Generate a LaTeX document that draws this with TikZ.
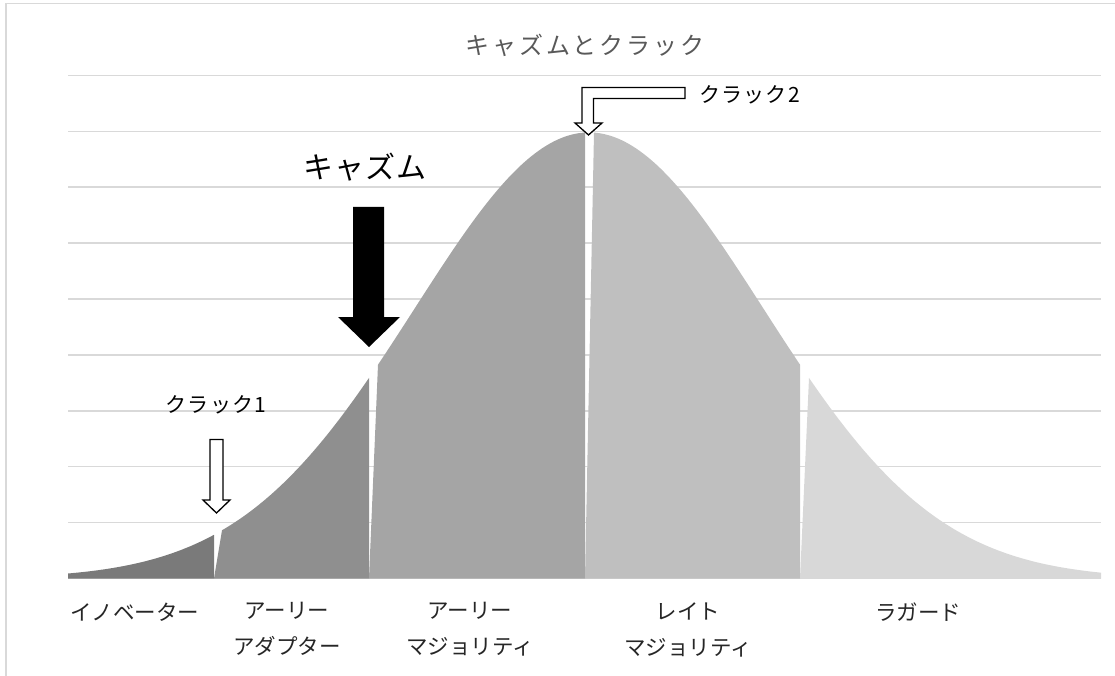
\documentclass[tikz,border=0pt]{standalone}
\usepackage{fontspec}
\newfontfamily\jp{Noto Sans CJK JP}
\newfontfamily\jptitle[LetterSpace=12]{Noto Sans CJK JP}
\newfontfamily\jpchasm[LetterSpace=4]{Noto Sans CJK JP}
\newfontfamily\jpcrack[LetterSpace=6]{Noto Sans CJK JP}
\definecolor{gridc}{HTML}{D9D9D9}
\definecolor{ca}{HTML}{7A7A7A}
\definecolor{cb}{HTML}{8F8F8F}
\definecolor{cc}{HTML}{A5A5A5}
\definecolor{cd}{HTML}{BFBFBF}
\definecolor{ce}{HTML}{D8D8D8}
\definecolor{titlec}{HTML}{595959}
\definecolor{labc}{HTML}{262626}
\begin{document}
\begin{tikzpicture}[x=1pt,y=-1pt,
  declare function={f(\x)=578.5-446*exp(-0.5*((\x-589)/174)^2);},
  gridline/.style={draw=gridc,line width=1.5pt},
  catlabel/.style={font=\jp\fontsize{21.5}{36}\selectfont,text=labc,align=center,inner sep=0pt},
  hollowarrow/.style={draw=black,fill=white,line width=1.3pt,line join=miter}]
\useasboundingbox (0,0) rectangle (1115,676);
% frame
\draw[gridc,line width=1.5pt] (6,676) -- (6,3.5) -- (1115,3.5);
% grid
\foreach \k in {0,...,9}{
  \draw[gridline] (68,{578.5-55.9*\k}) -- (1101,{578.5-55.9*\k});
}
% areas
\fill[ca] (68,578.5) -- plot[domain=68:214,samples=50] (\x,{f(\x)}) -- (214,578.5) -- cycle;
\fill[cb] (214,578.5) -- plot[domain=222:369,samples=50] (\x,{f(\x)}) -- (369,578.5) -- cycle;
\fill[cc] (369,578.5) -- plot[domain=378:585,samples=60] (\x,{f(\x)}) -- (585,578.5) -- cycle;
\fill[cd] (585,578.5) -- plot[domain=594:800,samples=60] (\x,{f(\x)}) -- (800,578.5) -- cycle;
\fill[ce] (800,578.5) -- plot[domain=809:1101,samples=70] (\x,{f(\x)}) -- (1101,578.5) -- cycle;
% title
\node[font=\jptitle\fontsize{24}{28}\selectfont,text=titlec,inner sep=0pt] (title) at (585,45) {キャズムとクラック};
% chasm
\node[font=\jpchasm\fontsize{30}{34}\selectfont,text=black,inner sep=0pt] (chasm) at (365,167) {キャズム};
\fill[black] (353,207) -- (384,207) -- (384,317) -- (400,317) -- (369,347) -- (338,317) -- (353,317) -- cycle;
% crack 1
\node[font=\jpcrack\fontsize{21}{24}\selectfont,text=black,inner sep=0pt] (crack1) at (216,405) {クラック1};
\draw[hollowarrow] (210,439.5) -- (223,439.5) -- (223,500) -- (230,500) -- (216.5,513) -- (203,500) -- (210,500) -- cycle;
% crack 2
\node[font=\jpcrack\fontsize{21}{24}\selectfont,text=black,inner sep=0pt,anchor=west] (crack2) at (699,95) {クラック2};
\draw[hollowarrow] (685,87.5) -- (582,87.5) -- (582,123) -- (575,123) -- (588.5,135) -- (602,123) -- (593.5,123) -- (593.5,98.5) -- (685,98.5) -- cycle;
% category labels
\node[catlabel] (inno) at (134.5,612) {イノベーター};
\node[catlabel] (adopt) at (287,629) {アーリー\\アダプター};
\node[catlabel] (emaj) at (470,629) {アーリー\\マジョリティ};
\node[catlabel] (lmaj) at (688,630) {レイト\\マジョリティ};
\node[catlabel] (lag) at (918,612) {ラガード};
\end{tikzpicture}
\end{document}
